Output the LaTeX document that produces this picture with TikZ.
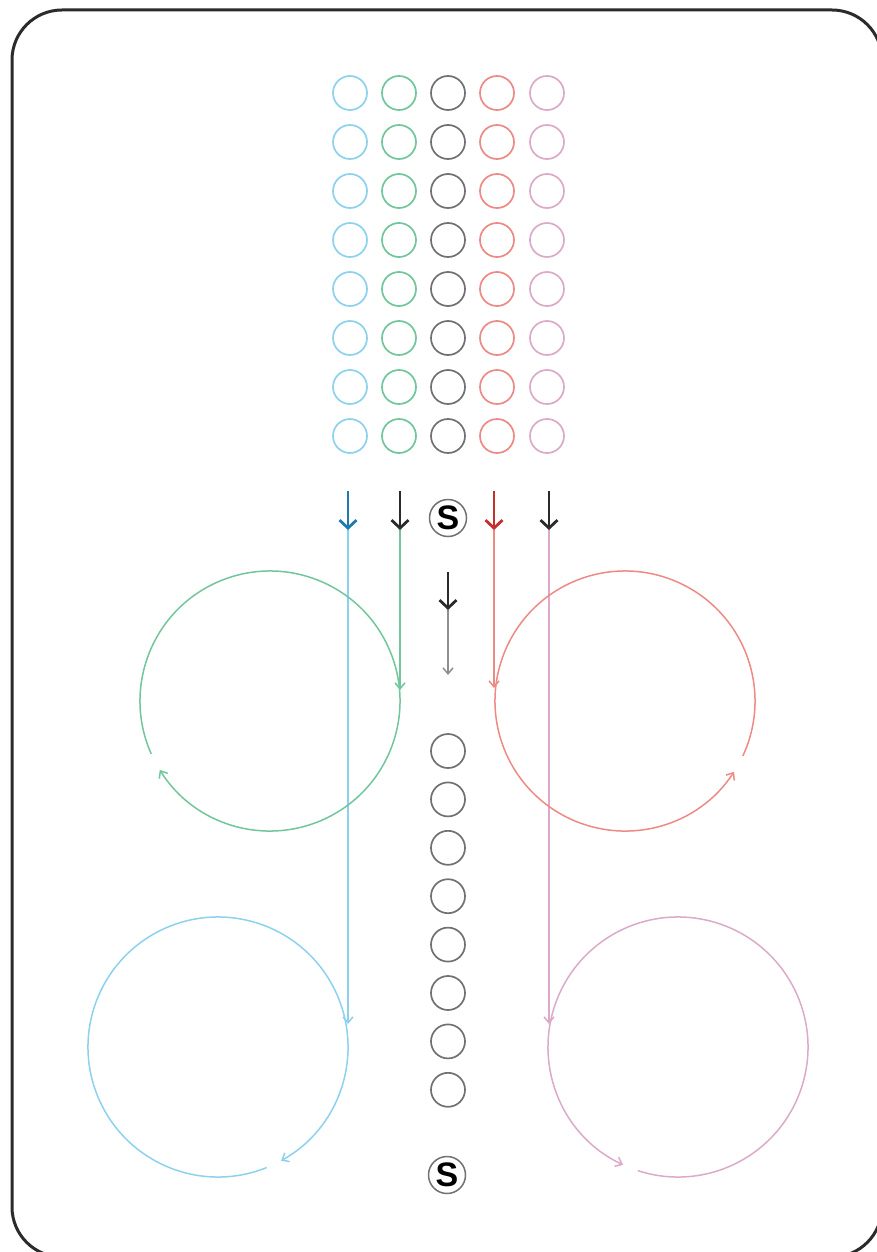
\documentclass[tikz,border=0pt]{standalone}
\usepackage{fontspec}
\setsansfont{Liberation Sans}
\usetikzlibrary{arrows.meta, positioning}
\definecolor{skyline}{HTML}{8DD1EE}
\definecolor{mint}{HTML}{72C69C}
\definecolor{ash}{HTML}{737073}
\definecolor{coral}{HTML}{EE8A86}
\definecolor{blush}{HTML}{DCAAC8}
\definecolor{deepsea}{HTML}{1F7BAE}
\definecolor{brick}{HTML}{C4302C}
\definecolor{ink}{HTML}{2B2B2B}
\tikzset{
  cell/.style={circle, draw=ash, line width=1.7pt, minimum size=34pt, inner sep=0pt},
  sign/.style={circle, draw=ash, line width=1.5pt, minimum size=37pt, inner sep=0pt,
    font=\sffamily\bfseries\fontsize{34}{34}\selectfont, text=black},
  push/.style={line width=2.8pt, -{Straight Barb[length=8pt, width=17pt]}},
  feed/.style={line width=1.5pt, -{Straight Barb[length=6pt, width=10pt]}},
  frame/.style={draw=ink, line width=3pt, rounded corners=50pt}
}

\begin{document}
\begin{tikzpicture}[x=1pt, y=-1pt]
  \useasboundingbox (0,0) rectangle (877,1252);
  \clip (0,0) rectangle (877,1252);
  \draw[frame] (12,10) rectangle (882,1257);

  % reservoir grid
  \foreach \col/\clr [count=\i] in {350/skyline, 399/mint, 448/ash, 497/coral, 547/blush} {
    \foreach \row in {0,...,7}
      \node[cell, draw=\clr] (g\i-\row) at (\col, 93+49*\row) {};
  }

  % central column
  \foreach \k in {0,...,7}
    \node[cell] (c\k) at (448, 751+48.4*\k) {};
  \node[sign] (s1) at (448,518) {S};
  \node[sign] (s2) at (447,1175) {S};

  % loop centres and inlets
  \coordinate (loopG) at (270,701);
  \coordinate (loopR) at (625,701);
  \coordinate (loopB) at (218,1047);
  \coordinate (loopP) at (678,1047);
  \foreach \n/\x in {B/348, G/400, R/494, P/549} {
    \coordinate (top\n) at (\x,491);
    \coordinate (mid\n) at (\x,530);
  }
  \coordinate (inG) at (400,690);
  \coordinate (inR) at (494,688);
  \coordinate (inB) at (348,1024);
  \coordinate (inP) at (549,1024);
  \coordinate (topS) at (448,572);
  \coordinate (midS) at (448,610);
  \coordinate (inS) at (448,675);

  % thin feeds
  \draw[feed, skyline] (midB) -- (inB);
  \draw[feed, mint] (midG) -- (inG);
  \draw[feed, coral] (midR) -- (inR);
  \draw[feed, blush] (midP) -- (inP);
  \draw[feed, ash!80] (midS) -- (inS);

  % short pushes
  \draw[push, deepsea] (topB) -- (midB);
  \draw[push, ink] (topG) -- (midG);
  \draw[push, brick] (topR) -- (midR);
  \draw[push, ink] (topP) -- (midP);
  \draw[push, ink] (topS) -- (midS);

  % circulation loops
  \draw[feed, mint] (loopG) ++(156:130) arc[start angle=156, end angle=508, radius=130];
  \draw[feed, coral] (loopR) ++(25:130) arc[start angle=25, end angle=-327, radius=130];
  \draw[feed, skyline] (loopB) ++(68:130) arc[start angle=68, end angle=421, radius=130];
  \draw[feed, blush] (loopP) ++(108:130) arc[start angle=108, end angle=-245, radius=130];
\end{tikzpicture}
\end{document}
